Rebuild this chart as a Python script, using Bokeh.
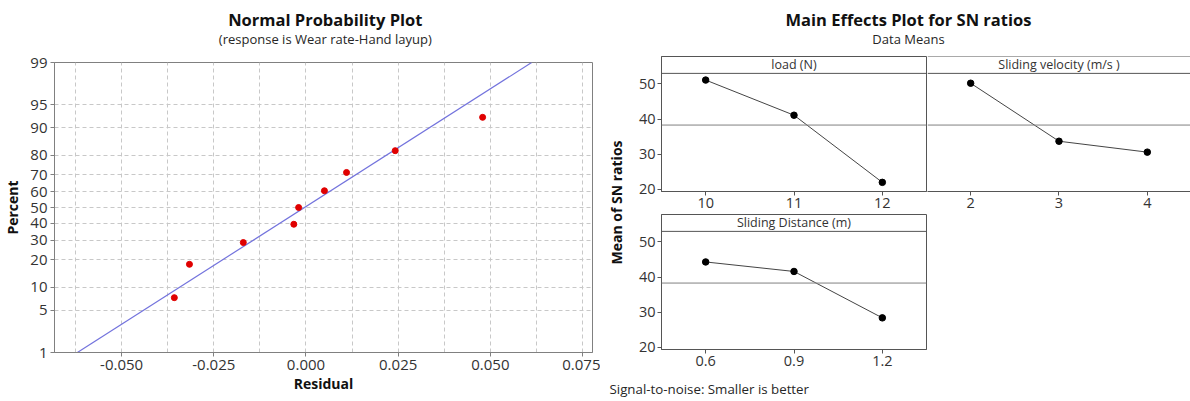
from statistics import NormalDist
import math
from bokeh.plotting import figure
from bokeh.models import Range1d, FixedTicker, Label, Span, PrintfTickFormatter
from bokeh.layouts import row, column
from bokeh.embed import file_html
from bokeh.resources import INLINE

# ---------------- data ----------------
residuals = [-0.0357, -0.0316, -0.0170, -0.0033, -0.0020, 0.0050, 0.0110, 0.0242, 0.0479]
percents = [7.4, 18.1, 28.7, 39.4, 50.0, 60.6, 71.3, 81.9, 92.6]
fit_residuals = [-0.0620, 0.0612]
fit_percents = [1, 99]
percent_ticks = [1, 5, 10, 20, 30, 40, 50, 60, 70, 80, 90, 95, 99]
residual_ticks = [-0.050, -0.025, 0.000, 0.025, 0.050, 0.075]

load_levels = [10, 11, 12]
load_sn = [51.1, 41.1, 22.0]
velocity_levels = [2, 3, 4]
velocity_sn = [50.2, 33.7, 30.6]
distance_levels = [0.6, 0.9, 1.2]
distance_sn = [44.3, 41.6, 28.4]
grand_mean_sn = 38.3
sn_ticks = [20, 30, 40, 50]

FONT = "Open Sans"
nd = NormalDist()


def zq(p):
    return nd.inv_cdf(p / 100.0)


def bare(p):
    p.title.visible = False
    p.background_fill_color = "white"
    p.border_fill_color = "white"
    return p


def text_fig(w, h):
    f = figure(width=w, height=h, output_backend="svg", toolbar_location=None,
               x_range=Range1d(0, w), y_range=Range1d(0, h),
               x_axis_location=None, y_axis_location=None,
               min_border_left=0, min_border_right=0, min_border_top=0, min_border_bottom=0)
    bare(f)
    f.outline_line_color = None
    f.xgrid.visible = False
    f.ygrid.visible = False
    return f


def txt(f, x, y, s, size, bold=False, align="center", baseline="middle", angle=0.0):
    f.add_layout(Label(x=x, y=y, text=s, text_font=FONT, text_font_size=size,
                       text_font_style="bold" if bold else "normal", angle=angle,
                       text_align=align, text_baseline=baseline,
                       text_color="#111111" if bold else "#262626"))


# ---------------- normal probability plot ----------------
ltitle = text_fig(600, 48)
txt(ltitle, 302, 48 - 18.5, "Normal Probability Plot", "16.5px", bold=True)
txt(ltitle, 302, 48 - 38.5, "(response is Wear rate-Hand layup)", "13px")

left = figure(width=600, height=353, output_backend="svg", toolbar_location=None,
              x_range=Range1d(-0.0682, 0.0777), y_range=Range1d(zq(1), zq(99)),
              min_border_left=52, min_border_right=8, min_border_top=14, min_border_bottom=49)
bare(left)
left.outline_line_color = "#808080"
left.outline_line_width = 1

zt = [zq(v) for v in percent_ticks]
left.yaxis.ticker = FixedTicker(ticks=zt)
left.yaxis.major_label_overrides = {t: str(v) for t, v in zip(zt, percent_ticks)}
left.xaxis.ticker = FixedTicker(ticks=residual_ticks)
left.xaxis.formatter = PrintfTickFormatter(format="%.3f")
left.yaxis.axis_label = "Percent"
left.xaxis.axis_label = "Residual"
left.yaxis.axis_label_standoff = 5
left.xaxis.axis_label_standoff = 1
for ax in (left.xaxis[0], left.yaxis[0]):
    ax.axis_line_color = "#808080"
    ax.major_tick_line_color = "#808080"
    ax.major_tick_out = 4
    ax.major_tick_in = 0
    ax.minor_tick_line_color = None
    ax.major_label_text_font = FONT
    ax.major_label_text_font_size = "15px"
    ax.major_label_text_color = "#333333"
    ax.major_label_standoff = 3
    ax.axis_label_text_font = FONT
    ax.axis_label_text_font_size = "14px"
    ax.axis_label_text_font_style = "bold"
    ax.axis_label_text_color = "#111111"

step = (residual_ticks[1] - residual_ticks[0]) / 2
grid_x = [residual_ticks[0] - step + k * step for k in range(12)]
left.xgrid.ticker = FixedTicker(ticks=grid_x)
left.ygrid.ticker = FixedTicker(ticks=zt)
for g in (left.xgrid[0], left.ygrid[0]):
    g.grid_line_color = "#c8c8c8"
    g.grid_line_dash = "4 3"
    g.grid_line_width = 1

left.line(fit_residuals, [zq(v) for v in fit_percents], line_color="#7373dd", line_width=1.2)
left.scatter(residuals, [zq(v) for v in percents], size=6, fill_color="#e00000",
             line_color="#e00000")

left_col = column(ltitle, left)

# ---------------- main effects plot ----------------
Y0, Y1 = 19.4, 57.8
STRIP = 53.0
PX = 88.33


def panel(levels, sn, xr, w, h, mbl, mbr, mbb, strip_text, strip_x, yaxis=True, outline=True):
    f = figure(width=w, height=h, output_backend="svg", toolbar_location=None,
               x_range=Range1d(*xr), y_range=Range1d(Y0, Y1),
               y_axis_location="left" if yaxis else None,
               min_border_left=mbl, min_border_right=mbr, min_border_top=1, min_border_bottom=mbb)
    bare(f)
    f.xgrid.visible = False
    f.ygrid.visible = False
    f.outline_line_color = "#555555" if outline else None
    f.xaxis.ticker = FixedTicker(ticks=levels)
    f.xaxis.major_label_overrides = {lv: str(lv) for lv in levels}
    axes = [f.xaxis[0]] + ([f.yaxis[0]] if yaxis else [])
    if yaxis:
        f.yaxis.ticker = FixedTicker(ticks=sn_ticks)
    for ax in axes:
        ax.axis_line_color = "#555555"
        ax.major_tick_line_color = "#555555"
        ax.major_tick_out = 4
        ax.major_tick_in = 0
        ax.minor_tick_line_color = None
        ax.major_label_text_font = FONT
        ax.major_label_text_font_size = "14.5px"
        ax.major_label_text_color = "#333333"
        ax.major_label_standoff = 2
    f.add_layout(Span(location=grand_mean_sn, dimension="width", line_color="#808080", line_width=1))
    f.add_layout(Span(location=STRIP, dimension="width", line_color="#555555", line_width=1))
    if not outline:
        f.add_layout(Span(location=Y1, dimension="width", line_color="#555555", line_width=1))
    f.line(levels, sn, line_color="#444444", line_width=1)
    f.scatter(levels, sn, size=6.5, fill_color="black", line_color="black")
    f.add_layout(Label(x=strip_x, y=(STRIP + Y1) / 2, text=strip_text, text_font=FONT,
                       text_font_size="12.5px", text_align="center", text_baseline="middle",
                       text_color="#333333"))
    return f


p1 = panel(load_levels, load_sn, (9.5, 12.5), 295, 158, 29, 1, 22, "load (N)",
           load_levels[1])
p2 = panel(velocity_levels, velocity_sn, (1.5 + 1 / PX, 1.5 + 264 / PX), 263, 158, 0, 0, 22,
           "Sliding velocity (m/s )", velocity_levels[1], yaxis=False, outline=False)
p3 = panel(distance_levels, distance_sn, (0.45, 1.35), 295, 162, 29, 1, 26,
           "Sliding Distance (m)", distance_levels[1])

title_fig = text_fig(590, 55)
txt(title_fig, 308, 55 - 18.5, "Main Effects Plot for SN ratios", "16.5px", bold=True)
txt(title_fig, 308, 55 - 38, "Data Means", "13px")

ylab_fig = text_fig(32, 320)
txt(ylab_fig, 16, 320 - 147, "Mean of SN ratios", "14px", bold=True, angle=math.pi / 2)

foot_fig = text_fig(590, 26)
txt(foot_fig, 9, 13, "Signal-to-noise: Smaller is better", "13.3px", align="left",
    baseline="middle")

right = column(title_fig, row(ylab_fig, column(row(p1, p2), p3)), foot_fig)
page = row(left_col, right)

open("out.html", "w").write(file_html(page, INLINE))
